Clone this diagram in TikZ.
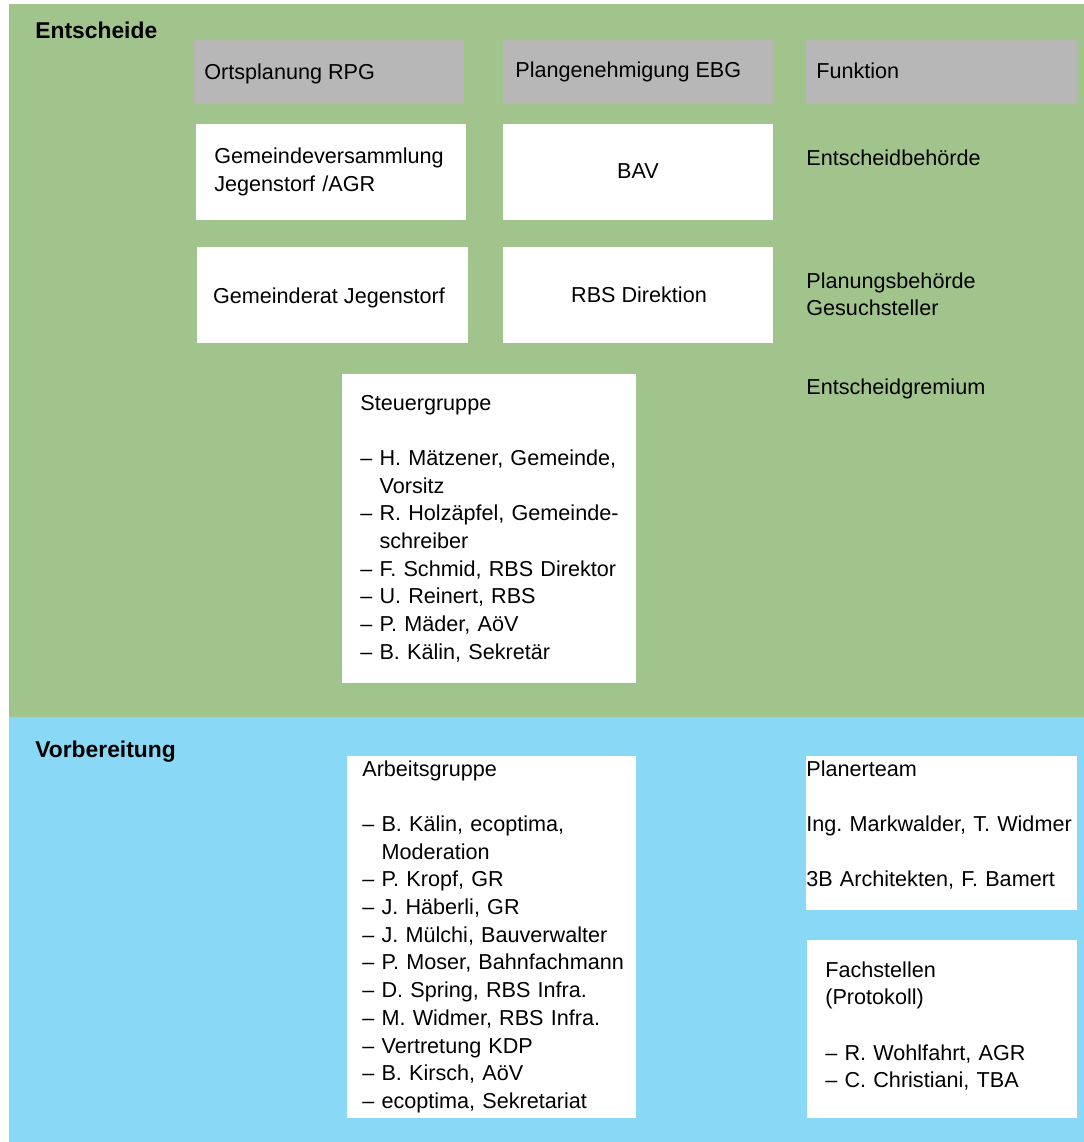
\documentclass[tikz,border=0pt]{standalone}
\usepackage{fontspec}
\setmainfont{Liberation Sans}
\definecolor{entgreen}{HTML}{A0C48B}
\definecolor{vorblue}{HTML}{89D8F6}
\definecolor{headgray}{HTML}{B7B7B7}
\newcommand{\hang}{\hphantom{– }}
\frenchspacing

\begin{document}
\begin{tikzpicture}[x=0.02cm, y=-0.02cm,
    txt/.style={anchor=base west, inner sep=0pt, font=\fontsize{12.3}{15.77}\selectfont},
    lst/.style={txt, text width=6cm, align=left},
    ctr/.style={anchor=base, inner sep=0pt, font=\fontsize{12.3}{15.77}\selectfont},
    sec/.style={anchor=base west, inner sep=0pt, font=\fontsize{13}{15.77}\selectfont\bfseries}]
    \useasboundingbox (0,0) rectangle (1084,1142);

    % Bands
    \fill[entgreen] (9,4) rectangle (1084,717);
    \fill[vorblue] (9,717) rectangle (1084,1142);
    \node[sec] (entscheide) at (35,39) {Entscheide};
    \node[sec] (vorbereitung) at (35,757) {Vorbereitung};

    % Headers
    \fill[headgray] (194,40) rectangle (464,104);
    \fill[headgray] (503,40) rectangle (773,104);
    \fill[headgray] (806,40) rectangle (1077,104);
    \node[txt] (rpg) at (204,80) {Ortsplanung RPG};
    \node[txt] (ebg) at (515,78) {Plangenehmigung EBG};
    \node[txt] (funktion) at (816,79) {Funktion};

    % Behoerden
    \fill[white] (196,124) rectangle (466,220);
    \fill[white] (503,124) rectangle (773,220);
    \fill[white] (197,247) rectangle (468,343);
    \fill[white] (503,247) rectangle (773,343);
    \node[lst] (gv) at (214,164) {Gemeindeversammlung\\Jegenstorf /AGR};
    \node[ctr] (bav) at (638,179) {BAV};
    \node[ctr] (gr) at (329,303) {Gemeinderat Jegenstorf};
    \node[ctr] (rbs) at (639,302) {RBS Direktion};

    % Funktion
    \node[txt] (entbeh) at (806,166) {Entscheidbehörde};
    \node[lst] (planbeh) at (806,288) {Planungsbehörde\\Gesuchsteller};
    \node[txt] (entgrem) at (806,394) {Entscheidgremium};

    % Steuergruppe
    \fill[white] (342,374) rectangle (636,683);
    \node[lst] (steuer) at (360,410) {Steuergruppe\\[\baselineskip]
        – H. Mätzener, Gemeinde,\\\hang Vorsitz\\
        – R. Holzäpfel, Gemeinde-\\\hang schreiber\\
        – F. Schmid, RBS Direktor\\
        – U. Reinert, RBS\\
        – P. Mäder, AöV\\
        – B. Kälin, Sekretär};

    % Arbeitsgruppe
    \fill[white] (347,756) rectangle (636,1118);
    \node[lst] (arbeit) at (362,776) {Arbeitsgruppe\\[\baselineskip]
        – B. Kälin, ecoptima,\\\hang Moderation\\
        – P. Kropf, GR\\
        – J. Häberli, GR\\
        – J. Mülchi, Bauverwalter\\
        – P. Moser, Bahnfachmann\\
        – D. Spring, RBS Infra.\\
        – M. Widmer, RBS Infra.\\
        – Vertretung KDP\\
        – B. Kirsch, AöV\\
        – ecoptima, Sekretariat};

    % Planerteam
    \fill[white] (806,756) rectangle (1077,910);
    \node[lst] (planer) at (806,776) {Planerteam\\[\baselineskip]
        Ing. Markwalder, T. Widmer\\[\baselineskip]
        3B Architekten, F. Bamert};

    % Fachstellen
    \fill[white] (807,940) rectangle (1077,1118);
    \node[lst] (fach) at (825,977) {Fachstellen\\(Protokoll)\\[\baselineskip]
        – R. Wohlfahrt, AGR\\
        – C. Christiani, TBA};
\end{tikzpicture}
\end{document}
